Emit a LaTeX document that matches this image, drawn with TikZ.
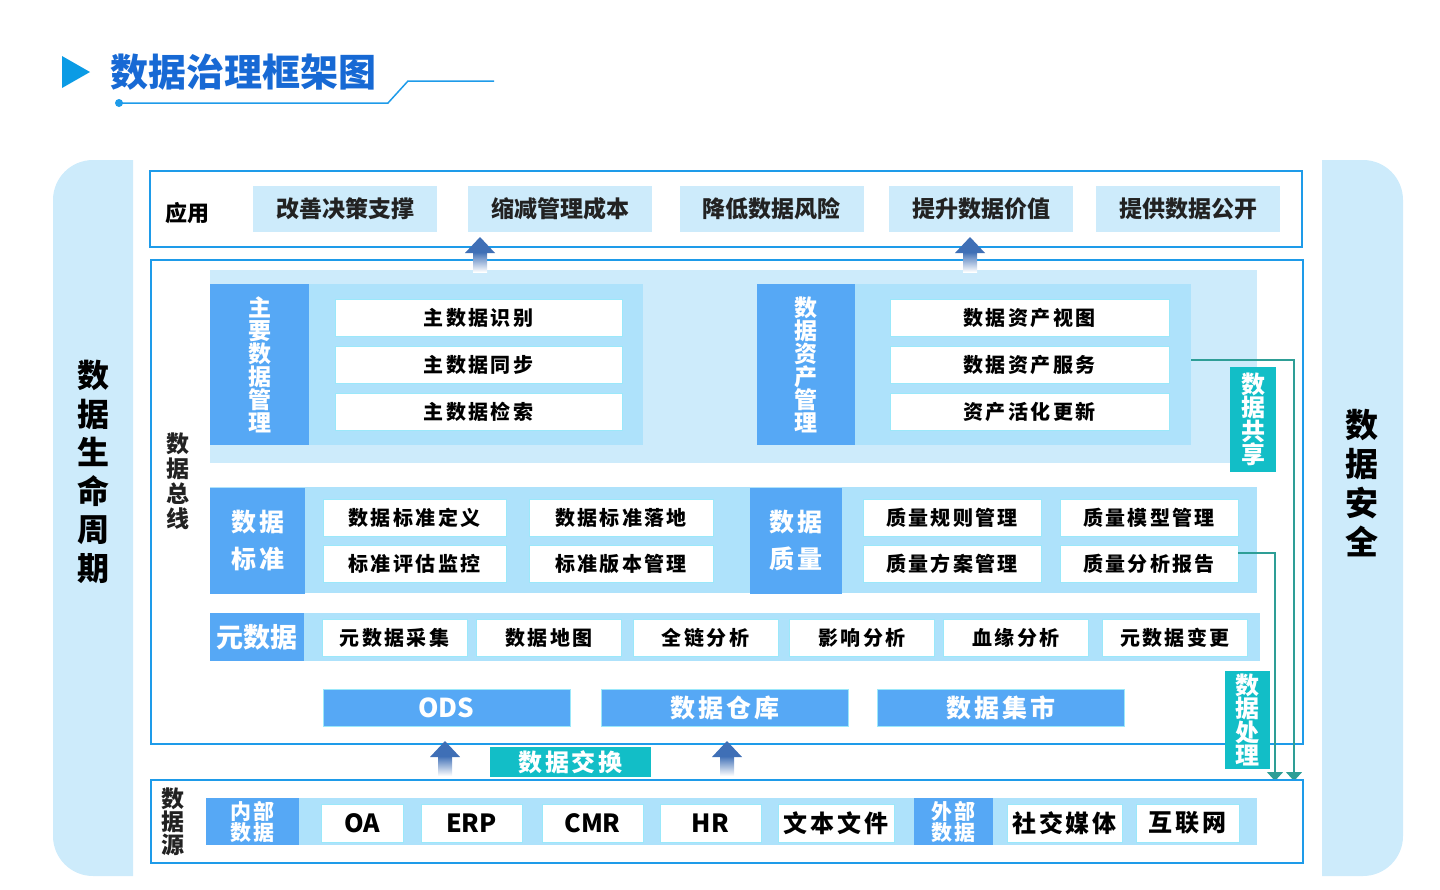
\documentclass[tikz,border=0pt]{standalone}
\usepackage{fontspec}
\setmainfont{Noto Sans CJK SC}
\newfontfamily\spacedcjk{Noto Sans CJK SC}[LetterSpace=12]
\usetikzlibrary{arrows.meta}

\definecolor{bandlt}{HTML}{CDEBFB}
\definecolor{bandmid}{HTML}{AEE2FB}
\definecolor{lblblue}{HTML}{56A8F5}
\definecolor{frameblue}{HTML}{1E9BE9}
\definecolor{itemline}{HTML}{9BE8FA}
\definecolor{tealbox}{HTML}{12BEC7}
\definecolor{tealline}{HTML}{2E9E96}
\definecolor{titleblue}{HTML}{1769D4}
\definecolor{titletri}{HTML}{0B9BE5}
\definecolor{arrowblue}{HTML}{3F6FB6}
\definecolor{txtdark}{HTML}{222222}

\newcommand{\bfont}[2]{\fontsize{#1}{#2}\selectfont\bfseries}
\newcommand{\spfont}[2]{\spacedcjk\fontsize{#1}{#2}\selectfont\bfseries}

\begin{document}
\begin{tikzpicture}[x=1pt, y=-1pt,
	every node/.style = {inner sep=0pt, outer sep=0pt},
	frame/.style   = {draw=frameblue, line width=1.5pt},
	band/.style    = {fill=bandmid},
	topband/.style = {fill=bandlt},
	lbl/.style     = {fill=lblblue, text=white, align=center, font=\bfont{23}{23}},
	item/.style    = {fill=white, draw=itemline, line width=0.8pt, text=black, font=\spfont{20}{22}},
	appitem/.style = {fill=bandlt, text=txtdark, minimum width=184pt, minimum height=46pt, font=\bfont{23}{25}},
	whbox/.style   = {fill=lblblue, draw=itemline, line width=0.6pt, text=white, minimum width=247pt, minimum height=37pt, font=\spfont{25}{26}},
	tbox/.style    = {fill=tealbox, text=white, align=center, font=\bfont{24}{23.5}},
	vtxt/.style    = {text=txtdark, align=center, font=\bfont{23}{24.5}},
	side/.style    = {text=black, align=center, font=\bfont{32}{38.5}},
	share/.style   = {draw=tealline, line width=1.5pt, -{Triangle[width=16pt,length=9pt]}},
	]
	\useasboundingbox (0,0) rectangle (1440,889);
	
	% title
	\fill[titletri] (62,56) -- (90,72) -- (62,88) -- cycle;
	\node[text=titleblue, font=\bfont{38}{40}] (title) at (243.5,72) {数据治理框架图};
	\fill[frameblue] (119,103) circle (4pt);
	\draw[frameblue, line width=1.5pt] (119,103) -- (388,103) -- (408,81) -- (494,81);
	
	% life cycle and security, the two side bands
	\begin{scope}
		\clip (53,160) rectangle (133,876);
		\fill[bandlt, rounded corners=40pt] (53,160) rectangle (220,876);
	\end{scope}
	\begin{scope}
		\clip (1322,160) rectangle (1403,876);
		\fill[bandlt, rounded corners=40pt] (1230,160) rectangle (1403,876);
	\end{scope}
	\node[side] (life) at (93,472) {数\\据\\生\\命\\周\\期};
	\node[side, font=\bfont{33}{39}] (safe) at (1362,483) {数\\据\\安\\全};
	
	% application level
	\node[frame, minimum width=1152pt, minimum height=76pt] (app) at (726,209) {};
	\node[text=black, font=\bfont{22}{24}] (applbl) at (187,213) {应用};
	\foreach \cx/\txt [count=\i] in {345/改善决策支撑, 560/缩减管理成本, 771.5/降低数据风险, 981/提升数据价值, 1188/提供数据公开}
	\node[appitem] (app\i) at (\cx,209) {\txt};
	
	% data bus, the main frame
	\node[frame, minimum width=1152pt, minimum height=484pt] (bus) at (727,502) {};
	\node[vtxt, font=\bfont{23}{25}] (buslbl) at (178,481) {数\\据\\总\\线};
	
	% master data and asset management
	\node[topband, minimum width=1047pt, minimum height=193pt] (mgmt) at (733.5,366.5) {};
	\node[band, minimum width=433pt, minimum height=161pt] (mastergrp) at (426.5,364.5) {};
	\node[band, minimum width=434pt, minimum height=161pt] (assetgrp) at (974,364.5) {};
	\node[lbl, minimum width=99pt, minimum height=161pt] (master) at (259.5,364.5) {主\\要\\数\\据\\管\\理};
	\node[lbl, minimum width=98pt, minimum height=161pt] (asset) at (806,364.5) {数\\据\\资\\产\\管\\理};
	\begin{scope}[every node/.append style={item, minimum height=37pt}]
		\foreach \cy/\txt [count=\i] in {317.5/主数据识别, 364.5/主数据同步, 411.5/主数据检索}
		\node[minimum width=287pt] (m\i) at (478.5,\cy) {\txt};
		\foreach \cy/\txt [count=\i] in {317.5/数据资产视图, 364.5/数据资产服务, 411.5/资产活化更新}
		\node[minimum width=279pt] (a\i) at (1029.5,\cy) {\txt};
	\end{scope}
	
	% standard and quality
	\node[band, minimum width=1047pt, minimum height=106pt] (stdq) at (733.5,540) {};
	\node[lbl, minimum width=95pt, minimum height=106pt, font=\spfont{25}{37}] (std) at (257.5,541) {数据\\标准};
	\node[lbl, minimum width=92pt, minimum height=106pt, font=\spfont{25}{37}] (qual) at (796,541) {数据\\质量};
	\begin{scope}[every node/.append style={item, minimum height=37pt}]
		\node[minimum width=183pt] (s1) at (414.5,517.5) {数据标准定义};
		\node[minimum width=184pt] (s2) at (621,517.5) {数据标准落地};
		\node[minimum width=183pt] (s3) at (414.5,563.5) {标准评估监控};
		\node[minimum width=184pt] (s4) at (621,563.5) {标准版本管理};
		\node[minimum width=178pt] (q1) at (952,517.5) {质量规则管理};
		\node[minimum width=178pt] (q2) at (1149,517.5) {质量模型管理};
		\node[minimum width=178pt] (q3) at (952,563.5) {质量方案管理};
		\node[minimum width=178pt] (q4) at (1149,563.5) {质量分析报告};
	\end{scope}
	
	% metadata
	\node[band, minimum width=1050pt, minimum height=48pt] (meta) at (735,637) {};
	\node[lbl, minimum width=94pt, minimum height=48pt, font=\bfont{27}{28}] (metalbl) at (257,637) {元数据};
	\foreach \cx/\txt [count=\i] in {394.5/元数据采集, 549/数据地图, 705.5/全链分析, 862/影响分析, 1016/血缘分析, 1175/元数据变更}
	\node[item, minimum width=145pt, minimum height=37pt] (md\i) at (\cx,637.5) {\txt};
	
	% storage
	\node[whbox, font=\bfont{26}{27}] (ods) at (446.5,707.5) {ODS};
	\node[whbox] (dw) at (724.5,707.5) {数据仓库};
	\node[whbox] (dm) at (1000.5,707.5) {数据集市};
	
	% sharing and processing, lines down to the sources
	\coordinate (shareend) at (1294,781);
	\coordinate (procend) at (1275,781);
	\draw[share] ([yshift=4.5pt]assetgrp.east) -| (shareend);
	\draw[share] ([yshift=10.5pt]q4.east) -| (procend);
	\node[tbox, minimum width=46pt, minimum height=105pt] (sharebox) at (1253,419.5) {数\\据\\共\\享};
	\node[tbox, minimum width=45pt, minimum height=98pt] (procbox) at (1247.5,720) {数\\据\\处\\理};
	\node[tbox, minimum width=161pt, minimum height=30pt, font=\spfont{24}{25}] (exch) at (570.5,762) {数据交换};
	
	% data sources
	\node[frame, minimum width=1152pt, minimum height=83pt] (src) at (727,821.5) {};
	\node[vtxt, font=\bfont{23}{23}] (srclbl) at (173,822) {数\\据\\源};
	\node[band, minimum width=1051pt, minimum height=47pt] (srcband) at (731.5,821.5) {};
	\node[lbl, minimum width=93pt, minimum height=47pt, font=\spfont{21}{18}] (inner) at (252.5,821.5) {内部\\数据};
	\node[lbl, minimum width=79pt, minimum height=47pt, font=\spfont{21}{18}] (outer) at (953.5,821.5) {外部\\数据};
	\begin{scope}[every node/.append style={item, minimum height=38pt, font=\bfont{25}{26}}]
		\node[minimum width=82pt] (oa) at (362,823) {OA};
		\node[minimum width=101pt] (erp) at (471.5,823) {ERP};
		\node[minimum width=101pt] (cmr) at (592.5,823) {CMR};
		\node[minimum width=101pt] (hr) at (710.5,823) {HR};
	\end{scope}
	\begin{scope}[every node/.append style={item, minimum height=38pt, font=\spfont{24}{25}}]
		\node[minimum width=116pt] (txtf) at (836,823) {文本文件};
		\node[minimum width=115pt] (social) at (1064.5,823) {社交媒体};
		\node[minimum width=103pt] (web) at (1187.5,823) {互联网};
	\end{scope}
	
	% arrows up, a shaded shaft below a head
	\foreach \ax/\ay in {480/237, 970/237, 445/741, 727/741} {
		\shade[top color=arrowblue, bottom color=white] (\ax-7,\ay+15) rectangle (\ax+7,\ay+35);
		\fill[arrowblue] (\ax,\ay) -- (\ax+15,\ay+16) -- (\ax-15,\ay+16) -- cycle;
	}
\end{tikzpicture}
\end{document}
